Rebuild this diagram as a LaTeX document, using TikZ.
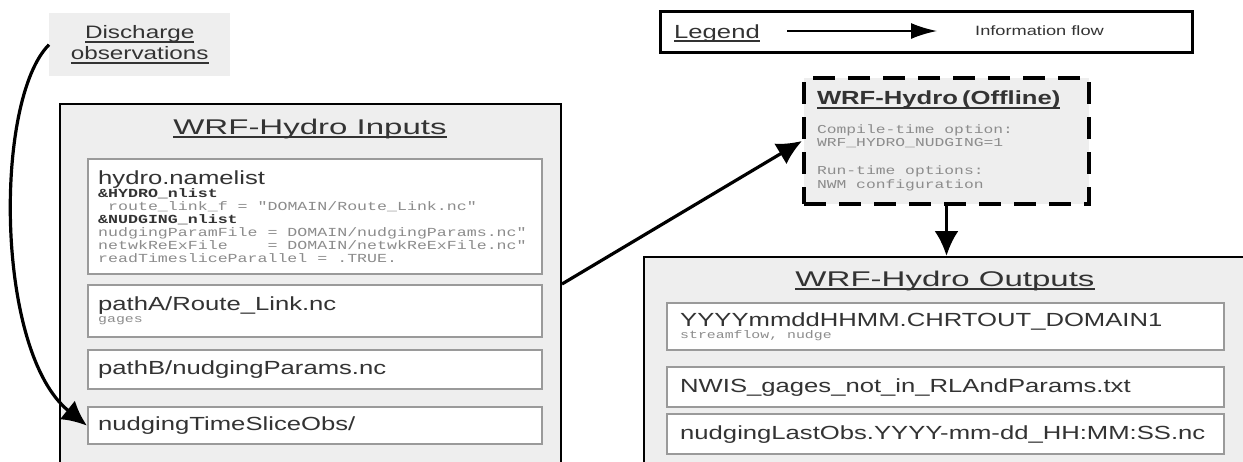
\documentclass[tikz,border=0pt]{standalone}
\usepackage{fontspec}
\setmainfont{Liberation Sans}[FakeStretch=1.35]
\newfontfamily\titlefont{Liberation Sans}[FakeStretch=1.55]
\setmonofont{Liberation Mono}[FakeStretch=1.35]
\usetikzlibrary{arrows.meta}

% underline as a rule below the baseline
\newcommand{\ulined}[1]{\setbox0\hbox{#1}\rlap{\vrule height -2.4pt depth 4pt width \wd0}\box0}
% one fixed-width blank in code lines
\newcommand{\csp}{\hphantom{x}}

\definecolor{panelgray}{HTML}{EEEEEE}
\definecolor{framegray}{HTML}{9A9A9A}
\definecolor{textgray}{HTML}{333333}
\definecolor{codegray}{HTML}{8C8C8C}

\tikzset{
  panel/.style={draw=black, line width=2pt, fill=panelgray, anchor=north west, inner sep=0pt},
  paneltitle/.style={anchor=base, inner sep=0pt, text=textgray, font=\titlefont\fontsize{21.3}{24}\selectfont},
  infile/.style={draw=framegray, line width=2.4pt, fill=white, anchor=north west,
    minimum width=454pt, text width=434pt, inner xsep=10pt, inner ysep=0pt, align=left,
    text=textgray, font=\fontsize{19}{20}\selectfont},
  outfile/.style={infile, minimum width=557pt, text width=531pt, inner xsep=13pt},
  code/.style={font=\ttfamily\fontsize{12.3}{13}\selectfont},
  flow/.style={line width=3.2pt, ->},
}

\begin{document}
\begin{tikzpicture}[x=1pt, y=-1pt, >={Latex[length=25pt,width=24pt]}]

\useasboundingbox (0,0) rectangle (1243,461);
\clip (0,0) rectangle (1243,461);
\fill[white] (0,0) rectangle (1243,461);

% observations
\node[fill=panelgray, anchor=north west, minimum width=181pt, minimum height=63pt, inner sep=0pt,
  align=center, text=textgray, font=\fontsize{18}{21}\selectfont] (obs) at (49,13)
  {\ulined{Discharge}\\\ulined{observations}};

% inputs
\node[panel, minimum width=501pt, minimum height=380pt] (inputs) at (59,103) {};
\node[paneltitle] (intitle) at (310,134) {\ulined{WRF-Hydro Inputs}};

\node[infile, minimum height=115pt, code] (nl) at (87,158)
  {{\rmfamily\fontsize{19}{19}\selectfont hydro.namelist}\\
   {\bfseries\&HYDRO\_nlist}\\
   {\color{codegray}\csp route\_link\_f\csp=\csp"DOMAIN/Route\_Link.nc"}\\
   {\bfseries\&NUDGING\_nlist}\\
   {\color{codegray}nudgingParamFile\csp=\csp DOMAIN/nudgingParams.nc"}\\
   {\color{codegray}netwkReExFile\csp\csp\csp\csp=\csp DOMAIN/netwkReExFile.nc"}\\
   {\color{codegray}readTimesliceParallel\csp=\csp.TRUE.}};
\node[infile, minimum height=52pt] (pa) at (87,284)
  {pathA/Route\_Link.nc\\[-8pt]{\ttfamily\fontsize{11}{11}\selectfont\color{codegray}gages}};
\node[infile, minimum height=39pt] (pb) at (87,349) {pathB/nudgingParams.nc};
\node[infile, minimum height=37pt] (tso) at (87,406) {nudgingTimeSliceObs/};

% legend
\node[draw=black, line width=2.5pt, fill=white, anchor=north west, minimum width=532pt,
  minimum height=41pt] (legend) at (659,10) {};
\node[anchor=base west, inner sep=0pt, text=textgray, font=\fontsize{19}{20}\selectfont]
  (legendtitle) at (674,38) {\ulined{Legend}};
\coordinate (lgA) at (787,31);
\coordinate (lgB) at (937,31);
\draw[line width=2pt, -{Latex[length=26pt,width=16pt]}] (lgA) -- (lgB);
\node[anchor=west, inner sep=0pt, text=textgray, font=\fontsize{13.5}{14}\selectfont]
  (legendflow) at (975,31) {Information flow};

% model
\node[draw=black, line width=4pt, dash pattern=on 22pt off 13pt, fill=panelgray,
  anchor=north west, minimum width=285pt, minimum height=126pt, text width=259pt,
  inner xsep=13pt, inner ysep=0pt, align=left,
  font=\ttfamily\fontsize{12.1}{13.5}\selectfont, text=codegray] (off) at (802,76)
  {{\rmfamily\bfseries\fontsize{19}{19}\selectfont\color{textgray}\ulined{WRF-Hydro (Offline)}}\\[15pt]
   Compile-time\csp option:\\
   WRF\_HYDRO\_NUDGING=1\\[14.5pt]
   Run-time\csp options:\\
   NWM\csp configuration};

% outputs
\node[panel, minimum width=620pt, minimum height=230pt] (outputs) at (643,256) {};
\node[paneltitle] (outtitle) at (945,286) {\ulined{WRF-Hydro Outputs}};

\node[outfile, minimum height=47pt] (chrt) at (666,302)
  {YYYYmmddHHMM.CHRTOUT\_DOMAIN1\\[-8pt]{\ttfamily\fontsize{11}{11}\selectfont\color{codegray}streamflow,\csp nudge}};
\node[outfile, minimum height=40pt] (nwis) at (666,366) {NWIS\_gages\_not\_in\_RLAndParams.txt};
\node[outfile, minimum height=40pt] (lastobs) at (666,413) {nudgingLastObs.YYYY-mm-dd\_HH:MM:SS.nc};

% flow
\draw[flow] (obs.west) .. controls +(-55,55) and +(-92,-74) .. (tso.west);
\draw[flow] (inputs.east |- pa.north) -- (off.west);
\draw[flow] (off.south) -- (off.south |- outputs.north);

\end{tikzpicture}
\end{document}
